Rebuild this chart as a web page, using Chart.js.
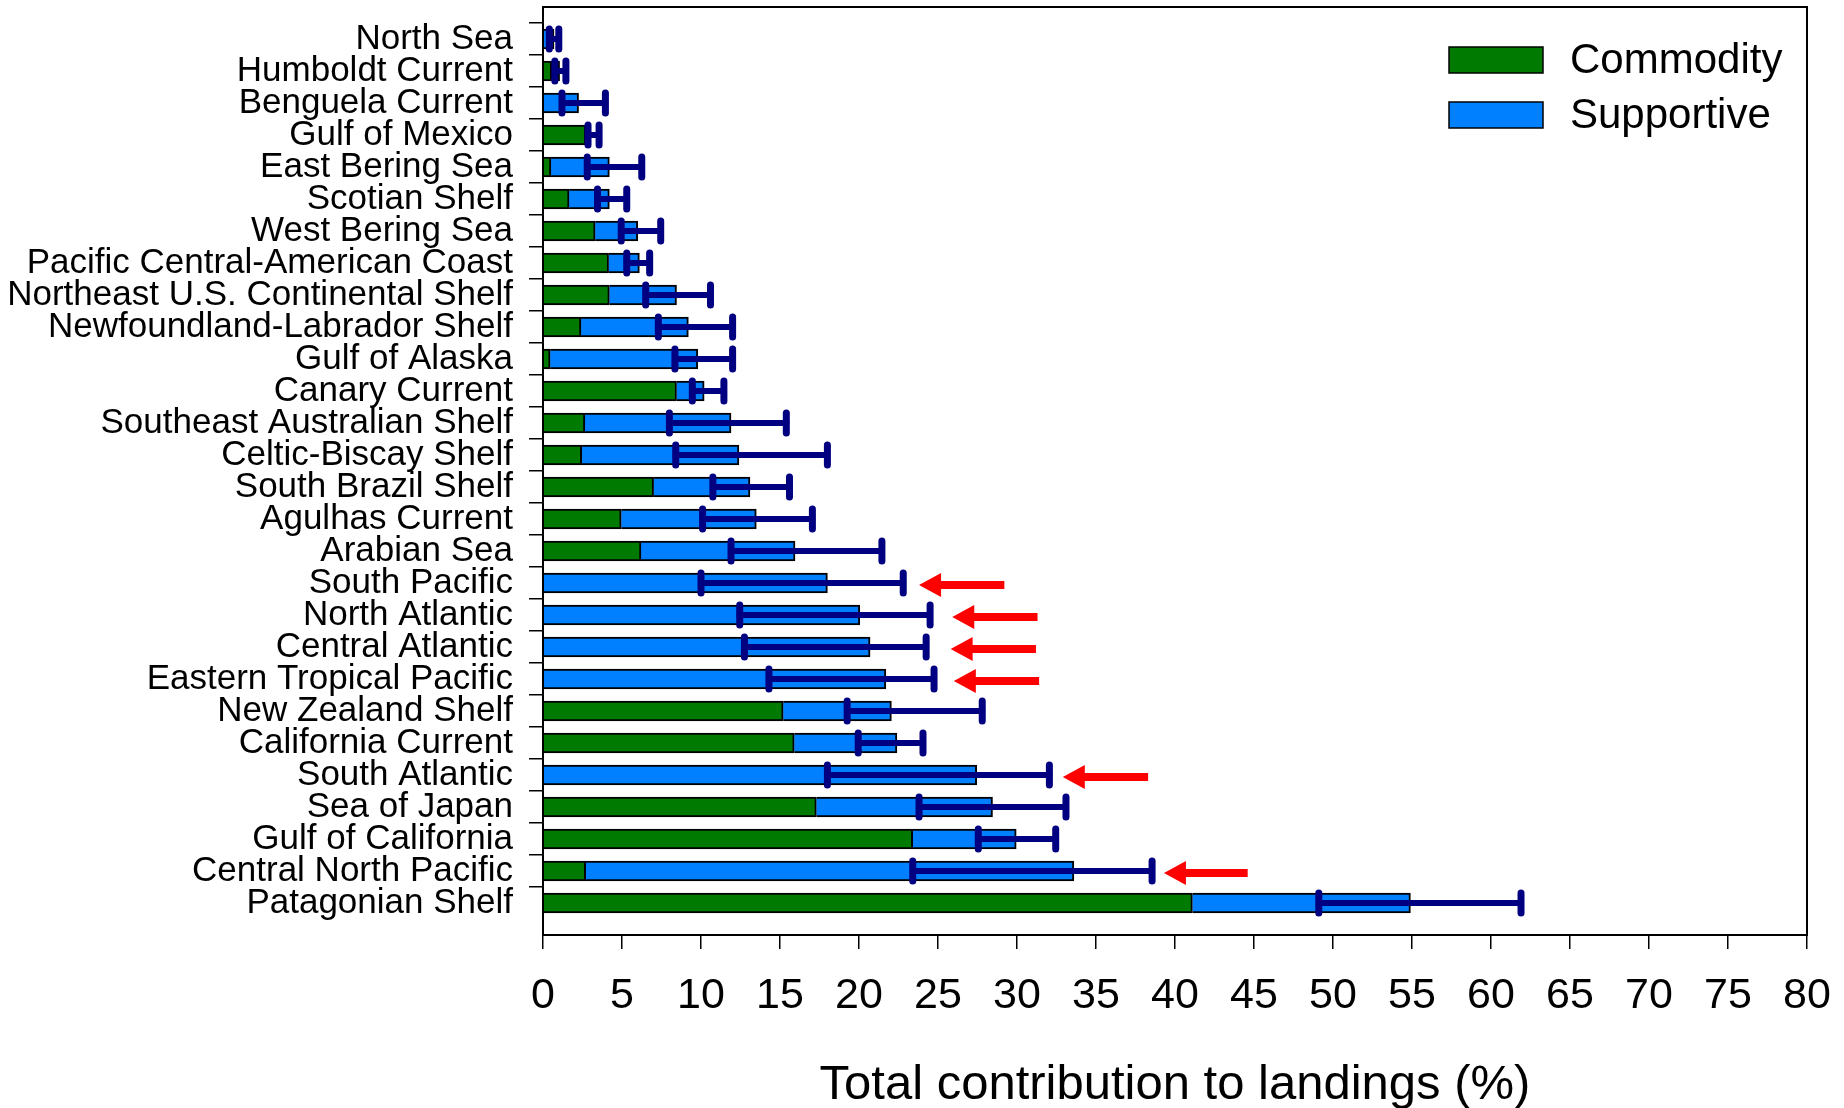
<!DOCTYPE html>
<html>
<head>
<meta charset="utf-8">
<title>Total contribution to landings</title>
<script src="https://cdn.jsdelivr.net/npm/chart.js@4.4.1/dist/chart.umd.min.js"></script>
<style>
    body { margin: 0; background: #fff; }
    #container { width: 1844px; height: 1108px; }
</style>
</head>
<body>
<div id="container"><canvas id="graphique"></canvas></div>
<script>
const regions = [
    "North Sea", "Humboldt Current", "Benguela Current", "Gulf of Mexico",
    "East Bering Sea", "Scotian Shelf", "West Bering Sea", "Pacific Central-American Coast",
    "Northeast U.S. Continental Shelf", "Newfoundland-Labrador Shelf", "Gulf of Alaska",
    "Canary Current", "Southeast Australian Shelf", "Celtic-Biscay Shelf", "South Brazil Shelf",
    "Agulhas Current", "Arabian Sea", "South Pacific", "North Atlantic", "Central Atlantic",
    "Eastern Tropical Pacific", "New Zealand Shelf", "California Current", "South Atlantic",
    "Sea of Japan", "Gulf of California", "Central North Pacific", "Patagonian Shelf"
];
const commodity = [0, 0.55, 0, 2.7, 0.5, 1.65, 3.3, 4.15, 4.2, 2.4, 0.45, 8.45, 2.65, 2.45,
    7.0, 4.95, 6.2, 0, 0, 0, 0, 15.2, 15.9, 0, 17.3, 23.4, 2.7, 41.1];
const supportive = [0.7, 0.5, 2.25, 0.1, 3.7, 2.55, 2.7, 1.95, 4.25, 6.8, 9.35, 1.75, 9.25, 9.95,
    6.1, 8.55, 9.75, 18.0, 20.05, 20.7, 21.7, 6.85, 6.5, 27.45, 11.15, 6.55, 30.9, 13.8];
const errLow = [0.4, 0.75, 1.2, 2.85, 2.8, 3.45, 4.95, 5.3, 6.5, 7.3, 8.35, 9.45, 8.0, 8.4,
    10.75, 10.1, 11.9, 10.0, 12.45, 12.75, 14.3, 19.25, 19.95, 18.0, 23.8, 27.55, 23.4, 49.1];
const errHigh = [1.0, 1.45, 3.95, 3.55, 6.25, 5.3, 7.45, 6.75, 10.6, 12.0, 12.0, 11.45, 15.4, 18.0,
    15.6, 17.05, 21.45, 22.8, 24.5, 24.25, 24.75, 27.8, 24.05, 32.05, 33.1, 32.45, 38.55, 61.9];
const xTicks = [0, 80, 5];

// red arrows: region, tip, tail
const arrowRegions = ["South Pacific", "North Atlantic", "Central Atlantic",
    "Eastern Tropical Pacific", "South Atlantic", "Central North Pacific"];
const arrowTip = [23.8, 25.9, 25.8, 26.0, 32.9, 39.3];
const arrowTail = [29.2, 31.3, 31.2, 31.4, 38.3, 44.6];

// empty category at each end gives the padding seen above and below the bars
const labels = ["", ...regions, ""];
const pad = arr => [null, ...arr.map(v => v || null), null];

const fontName = "'Liberation Sans', Arial, sans-serif";

const errorBars = {
    id: "errorBars",
    afterDatasetsDraw(chart) {
        const ctx = chart.ctx;
        const x = chart.scales.x;
        const y = chart.scales.y;
        ctx.save();
        ctx.strokeStyle = "#000080";
        ctx.lineCap = "round";
        regions.forEach((nom, i) => {
            const py = y.getPixelForValue(i + 1);
            const x1 = x.getPixelForValue(errLow[i]);
            const x2 = x.getPixelForValue(errHigh[i]);
            ctx.lineWidth = 6;
            ctx.beginPath();
            ctx.moveTo(x1, py);
            ctx.lineTo(x2, py);
            ctx.stroke();
            ctx.lineWidth = 7;
            [x1, x2].forEach(cx => {
                ctx.beginPath();
                ctx.moveTo(cx, py - 10);
                ctx.lineTo(cx, py + 10);
                ctx.stroke();
            });
        });
        ctx.restore();
    }
};

const arrows = {
    id: "arrows",
    afterDatasetsDraw(chart) {
        const ctx = chart.ctx;
        const x = chart.scales.x;
        const y = chart.scales.y;
        ctx.save();
        ctx.fillStyle = "#ff0000";
        ctx.strokeStyle = "#ff0000";
        arrowRegions.forEach((nom, i) => {
            const py = y.getPixelForValue(labels.indexOf(nom)) + 2;
            const tip = x.getPixelForValue(arrowTip[i]);
            const tail = x.getPixelForValue(arrowTail[i]);
            ctx.lineWidth = 8;
            ctx.beginPath();
            ctx.moveTo(tip + 20, py);
            ctx.lineTo(tail, py);
            ctx.stroke();
            ctx.beginPath();
            ctx.moveTo(tip, py);
            ctx.lineTo(tip + 22, py - 12);
            ctx.lineTo(tip + 22, py + 12);
            ctx.closePath();
            ctx.fill();
        });
        ctx.restore();
    }
};

const cadre = {
    id: "cadre",
    afterDraw(chart) {
        const a = chart.chartArea;
        const ctx = chart.ctx;
        ctx.save();
        ctx.strokeStyle = "#000";
        ctx.lineWidth = 2;
        ctx.strokeRect(a.left, a.top, a.right - a.left, a.bottom - a.top);

        // legend in the top right corner of the plot
        ctx.font = "42px " + fontName;
        ctx.textBaseline = "middle";
        chart.data.datasets.forEach((ds, i) => {
            const top = a.top + 40 + i * 55;
            ctx.fillStyle = ds.backgroundColor;
            ctx.fillRect(a.right - 358, top, 94, 26);
            ctx.lineWidth = 1.5;
            ctx.strokeRect(a.right - 358, top, 94, 26);
            ctx.fillStyle = "#000";
            ctx.fillText(ds.label, a.right - 237, top + 14);
        });
        ctx.restore();
    }
};

function creerGraphique() {
    const canvas = document.getElementById("graphique");
    new Chart(canvas, {
        type: "bar",
        data: {
            labels: labels,
            datasets: [{
                label: "Commodity",
                data: pad(commodity),
                backgroundColor: "#007a00",
                borderColor: "#000",
                borderWidth: 2,
                barThickness: 20
            }, {
                label: "Supportive",
                data: pad(supportive),
                backgroundColor: "#0080ff",
                borderColor: "#000",
                borderWidth: 2,
                barThickness: 20
            }]
        },
        options: {
            indexAxis: "y",
            responsive: true,
            maintainAspectRatio: false,
            animation: false,
            layout: { padding: { top: 7, right: 37, left: 0, bottom: 0 } },
            plugins: {
                legend: { display: false },
                tooltip: { enabled: false }
            },
            scales: {
                x: {
                    stacked: true,
                    min: xTicks[0],
                    max: xTicks[1],
                    border: { display: true, color: "#000", width: 2 },
                    grid: { drawOnChartArea: false, drawTicks: true, tickLength: 14, color: "#000", lineWidth: 1.5 },
                    ticks: {
                        stepSize: xTicks[2],
                        color: "#000",
                        padding: 21,
                        maxRotation: 0,
                        font: { family: fontName, size: 43 }
                    },
                    title: {
                        display: true,
                        text: "Total contribution to landings (%)",
                        color: "#000",
                        padding: { top: 0, bottom: -2 },
                        font: { family: fontName, size: 49, lineHeight: 1 }
                    },
                    afterFit(scale) {
                        scale.height = 173;
                        scale.paddingLeft = 0;
                        scale.paddingRight = 0;
                    }
                },
                y: {
                    stacked: true,
                    offset: false,
                    border: { display: true, color: "#000", width: 2 },
                    grid: {
                        drawOnChartArea: false,
                        drawTicks: true,
                        tickLength: 14,
                        lineWidth: 1.5,
                        color: c => (c.tick && c.tick.label === "") ? "rgba(0,0,0,0)" : "#000"
                    },
                    ticks: {
                        autoSkip: false,
                        color: "#000",
                        padding: 16,
                        font: { family: fontName, size: 35 }
                    },
                    afterFit(scale) {
                        scale.width = 543;
                        scale.paddingTop = 0;
                        scale.paddingBottom = 0;
                    }
                }
            }
        },
        plugins: [errorBars, arrows, cadre]
    });
}

creerGraphique();
</script>
</body>
</html>
